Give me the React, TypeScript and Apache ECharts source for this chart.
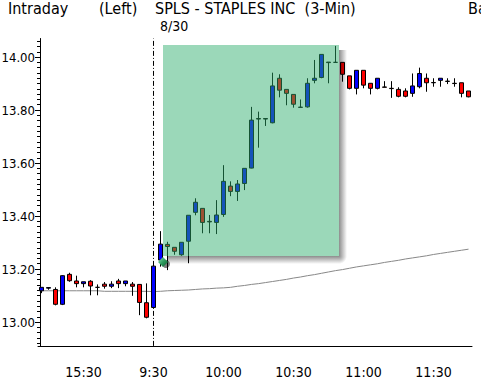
import React, { useEffect, useRef } from "react";
import * as echarts from "echarts";

const categories = [
  "15:12", "15:15", "15:18", "15:21", "15:24", "15:27", "15:30", "15:33",
  "15:36", "15:39", "15:42", "15:45", "15:48", "15:51", "15:54", "15:57",
  "9:30", "9:33", "9:36", "9:39", "9:42", "9:45", "9:48", "9:51", "9:54", "9:57",
  "10:00", "10:03", "10:06", "10:09", "10:12", "10:15", "10:18", "10:21", "10:24", "10:27",
  "10:30", "10:33", "10:36", "10:39", "10:42", "10:45", "10:48", "10:51", "10:54", "10:57",
  "11:00", "11:03", "11:06", "11:09", "11:12", "11:15", "11:18", "11:21", "11:24", "11:27",
  "11:30", "11:33", "11:36", "11:39", "11:42", "11:45",
];

const openValues = [
  13.118, 13.128, 13.123, 13.067, 13.18, 13.155, 13.145, 13.154, 13.131, 13.143,
  13.135, 13.155, 13.145, 13.143, 13.142, 13.073, 13.055, 13.234, 13.293, 13.282,
  13.254, 13.305, 13.414, 13.429, 13.38, 13.376, 13.406, 13.513, 13.493, 13.523,
  13.581, 13.768, 13.768, 13.752, 13.92, 13.878, 13.859, 13.811, 13.812, 13.912,
  13.923, 13.981, 13.98, 13.98, 13.929, 13.882, 13.95, 13.901, 13.882, 13.887,
  13.882, 13.878, 13.872, 13.863, 13.888, 13.92, 13.904, 13.912, 13.909, 13.901,
  13.903, 13.872,
];
const closeValues = [
  13.131, 13.13, 13.067, 13.175, 13.156, 13.145, 13.152, 13.136, 13.131, 13.135,
  13.143, 13.145, 13.155, 13.135, 13.074, 13.018, 13.211, 13.294, 13.285, 13.267,
  13.301, 13.403, 13.452, 13.376, 13.378, 13.404, 13.531, 13.493, 13.521, 13.58,
  13.762, 13.766, 13.766, 13.891, 13.875, 13.863, 13.822, 13.81, 13.901, 13.92,
  14.01, 13.979, 13.98, 13.935, 13.882, 13.95, 13.894, 13.882, 13.92, 13.886,
  13.881, 13.852, 13.852, 13.891, 13.938, 13.903, 13.903, 13.92, 13.908, 13.9,
  13.863, 13.85,
];
const lowValues = [
  13.109, 13.122, 13.063, 13.064, 13.152, 13.131, 13.131, 13.101, 13.101, 13.126,
  13.128, 13.128, 13.135, 13.099, 13.026, 13.014, 13.053, 13.209, 13.196, 13.254,
  13.25, 13.222, 13.403, 13.335, 13.335, 13.332, 13.397, 13.475, 13.457, 13.498,
  13.58, 13.658, 13.74, 13.75, 13.848, 13.818, 13.809, 13.81, 13.809, 13.901,
  13.92, 13.901, 13.98, 13.907, 13.878, 13.859, 13.882, 13.859, 13.878, 13.886,
  13.846, 13.848, 13.848, 13.85, 13.882, 13.869, 13.888, 13.888, 13.898, 13.888,
  13.848, 13.848,
];
const highValues = [
  13.131, 13.131, 13.131, 13.177, 13.186, 13.175, 13.152, 13.158, 13.142, 13.151,
  13.154, 13.163, 13.155, 13.151, 13.142, 13.146, 13.223, 13.343, 13.303, 13.282,
  13.301, 13.403, 13.467, 13.429, 13.404, 13.46, 13.592, 13.531, 13.536, 13.58,
  13.812, 13.794, 13.768, 13.941, 13.935, 13.878, 13.859, 13.84, 13.92, 13.989,
  14.01, 13.981, 14.042, 13.98, 13.929, 13.95, 13.95, 13.901, 13.92, 13.909,
  13.909, 13.886, 13.882, 13.938, 13.96, 13.938, 13.92, 13.92, 13.92, 13.92,
  13.903, 13.872,
];
const averageValues = [
  13.118, 13.118, 13.118, 13.118, 13.118, 13.118, 13.118, 13.118, 13.118, 13.116,
  13.116, 13.116, 13.116, 13.116, 13.116, 13.116, 13.115, 13.116, 13.118, 13.119,
  13.12, 13.121, 13.123, 13.125, 13.126, 13.128, 13.129, 13.131, 13.135, 13.138,
  13.142, 13.145, 13.149, 13.153, 13.157, 13.161, 13.166, 13.17, 13.175, 13.179,
  13.184, 13.189, 13.194, 13.198, 13.203, 13.208, 13.212, 13.216, 13.22, 13.225,
  13.229, 13.233, 13.238, 13.242, 13.246, 13.25, 13.255, 13.259, 13.263, 13.267,
  13.271, 13.275,
];
const yTickLabels = [13.0, 13.2, 13.4, 13.6, 13.8, 14.0];
const sessionStart = "9:30";

const FONT = "'DejaVu Sans Condensed', 'DejaVu Sans', sans-serif";

export default function App() {
  const ref = useRef<HTMLDivElement>(null);
  useEffect(() => {
    if (!ref.current) return;
    const chart = echarts.init(ref.current, undefined, { renderer: "svg" });
    const minorTicks: number[] = [];
    for (let k = 646; k <= 703; k++) minorTicks.push(+(k * 0.02).toFixed(2));
    const candleData = openValues.map((o, i) => [o, closeValues[i], lowValues[i], highValues[i]]);
    const textStyle = { fontFamily: FONT, fontSize: 16, fill: "#000" };
    chart.setOption({
      animation: false,
      backgroundColor: "#fff",
      grid: { left: 38, width: 434, top: 38.5, height: 307.4, containLabel: false, outerBoundsMode: "none" },
      xAxis: {
        type: "category",
        data: categories,
        boundaryGap: true,
        axisLine: { lineStyle: { color: "#000", width: 1 } },
        axisTick: {
          alignWithLabel: true,
          length: 7,
          interval: (i: number) => i % 5 === 1,
          lineStyle: { color: "#000" },
        },
        axisLabel: {
          interval: (i: number) => i % 10 === 6,
          margin: 19,
          color: "#000",
          fontFamily: FONT,
          fontSize: 14,
        },
        splitLine: { show: false },
      },
      yAxis: [
        {
          type: "value",
          min: 12.91,
          max: 14.07,
          position: "left",
          offset: -2,
          axisLine: { show: true, lineStyle: { color: "#000" } },
          axisTick: { show: true, customValues: yTickLabels, length: 5, lineStyle: { color: "#000" } },
          axisLabel: {
            customValues: yTickLabels,
            formatter: (v: number) => v.toFixed(2),
            margin: 5,
            color: "#000",
            fontFamily: FONT,
            fontSize: 13,
          },
          splitLine: { show: false },
        },
        {
          type: "value",
          min: 12.91,
          max: 14.07,
          position: "left",
          offset: -2,
          axisLine: { show: false },
          axisTick: { show: true, customValues: minorTicks, length: 3, lineStyle: { color: "#000" } },
          axisLabel: { show: false },
          splitLine: { show: false },
        },
      ],
      series: [
        {
          type: "line",
          data: averageValues,
          yAxisIndex: 0,
          symbol: "none",
          silent: true,
          z: 1,
          lineStyle: { color: "#888", width: 1 },
          markLine: {
            z: 1,
            silent: true,
            symbol: ["none", "none"],
            label: { show: false },
            lineStyle: { color: "#000", width: 1, type: [5, 2, 1, 2] },
            data: [{ xAxis: sessionStart }],
          },
        },
        {
          type: "candlestick",
          data: candleData,
          yAxisIndex: 0,
          barWidth: 5,
          z: 3,
          itemStyle: {
            color: "#0000ff",
            color0: "#ff0000",
            borderColor: "#000",
            borderColor0: "#000",
            borderColorDoji: "#000",
            borderWidth: 1,
          },
        },
      ],
      graphic: [
        { type: "text", x: 8, y: 8.5, z: 20, style: { ...textStyle, text: "Intraday", textVerticalAlign: "middle" } },
        { type: "text", x: 99, y: 8.5, z: 20, style: { ...textStyle, text: "(Left)", textVerticalAlign: "middle" } },
        { type: "text", x: 155, y: 8.5, z: 20, style: { ...textStyle, text: "SPLS - STAPLES INC  (3-Min)", textVerticalAlign: "middle" } },
        { type: "text", x: 468, y: 8.5, z: 20, style: { ...textStyle, text: "Ba", textVerticalAlign: "middle" } },
        { type: "text", x: 160, y: 26, z: 20, style: { ...textStyle, fontSize: 14, text: "8/30", textVerticalAlign: "middle" } },
        {
          type: "rect", z: 9, silent: true,
          shape: { x: 339, y: 50, width: 8, height: 206 },
          style: { fill: new echarts.graphic.LinearGradient(0, 0, 1, 0, [
            { offset: 0, color: "rgba(0,0,0,0.45)" }, { offset: 1, color: "rgba(0,0,0,0)" }]) },
        },
        {
          type: "rect", z: 9, silent: true,
          shape: { x: 168, y: 256, width: 171, height: 8 },
          style: { fill: new echarts.graphic.LinearGradient(0, 0, 0, 1, [
            { offset: 0, color: "rgba(0,0,0,0.45)" }, { offset: 1, color: "rgba(0,0,0,0)" }]) },
        },
        {
          type: "rect", z: 9, silent: true,
          shape: { x: 339, y: 256, width: 8, height: 8 },
          style: { fill: new echarts.graphic.RadialGradient(0, 0, 1, [
            { offset: 0, color: "rgba(0,0,0,0.45)" }, { offset: 1, color: "rgba(0,0,0,0)" }]) },
        },
        {
          type: "rect", z: 10, silent: true,
          shape: { x: 163, y: 45, width: 176, height: 211 },
          style: { fill: "rgba(44,173,107,0.475)" },
        },
        {
          type: "circle", z: 11, silent: true,
          shape: { cx: 166, cy: 264, r: 4 },
          style: { fill: "rgba(0,0,0,0.5)" },
        },
        {
          type: "polygon", z: 12, silent: true,
          shape: { points: [[163, 257], [168, 262], [163, 267], [158, 262]] },
          style: { fill: new echarts.graphic.LinearGradient(0, 0, 1, 1, [
            { offset: 0, color: "#8fe3b5" }, { offset: 0.5, color: "#2e9b5e" }, { offset: 1, color: "#0f5a30" }]) },
        },
      ],
    });
    return () => chart.dispose();
  }, []);
  return <div ref={ref} style={{ width: 481, height: 382, position: "absolute", left: 0, top: 0 }} />;
}
